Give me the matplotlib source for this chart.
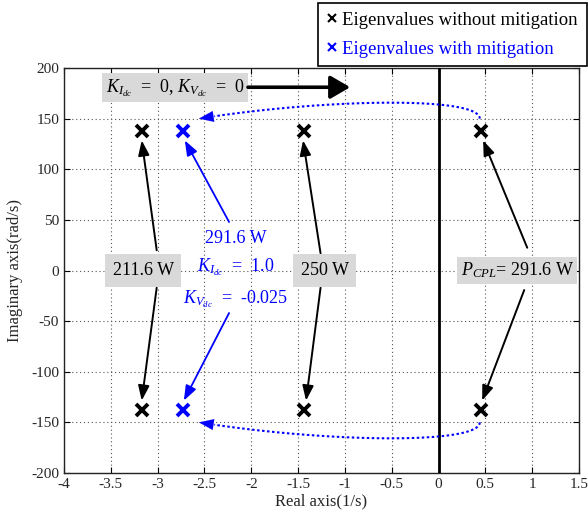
import numpy as np
import matplotlib
matplotlib.use("Agg")
import matplotlib.pyplot as plt
from matplotlib.lines import Line2D

plt.rcParams['font.family'] = ['Liberation Serif', 'DejaVu Serif']
plt.rcParams['mathtext.fontset'] = 'custom'
plt.rcParams['mathtext.rm'] = 'Liberation Serif'
plt.rcParams['mathtext.it'] = 'Liberation Serif:italic'
plt.rcParams['mathtext.bf'] = 'Liberation Serif:bold'

# ---------------- data ----------------
# eigenvalues without mitigation (real parts for P_CPL = 211.6, 250, 291.6 W)
real_without = [-3.167, -1.436, 0.455]
imag_pair = [138, -138]
# eigenvalue with mitigation (291.6 W, K_Idc = 1.0, K_Vdc = -0.025)
real_with = [-2.73]

power_labels = ["211.6 W", "250 W", r"$P_{CPL}$= 291.6 W"]
label_x = [-3.155, -1.217, 0.84]
label_y = [0.0, 0.0, 0.0]
label_pad = [0.42, 0.42, 0.2]

xticks = [-4, -3.5, -3, -2.5, -2, -1.5, -1, -0.5, 0, 0.5, 1, 1.5]
yticks = [-200, -150, -100, -50, 0, 50, 100, 150, 200]

# ---------------- figure ----------------
fig = plt.figure(figsize=(5.88, 5.23), dpi=100)
ax = fig.add_axes([64 / 588, 50 / 523, 515 / 588, 405 / 523])
ax.set_xlim(-4, 1.5)
ax.set_ylim(-200, 200)
ax.set_xticks(xticks)
ax.set_xticklabels([("%g" % v) for v in xticks])
ax.set_yticks(yticks)
ax.set_yticklabels([("%g" % v) for v in yticks])
ax.tick_params(direction='in', top=True, right=True, length=4, width=0.8,
               labelsize=11, labelcolor='#262626')
ax.grid(True, linestyle=(0, (1, 2.5)), color='#555555', linewidth=0.8)
for s in ax.spines.values():
    s.set_linewidth(1.0)
    s.set_color('#222222')
ax.set_xlabel("Real axis(1/s)", fontsize=12, color='#262626', labelpad=2)
ax.set_ylabel("Imaginary axis(rad/s)", fontsize=12, color='#262626', labelpad=6)

# imaginary axis line
ax.axvline(0, color='black', linewidth=2.0, zorder=3)

# markers
for x in real_without:
    ax.plot([x, x], imag_pair, linestyle='none', marker='x', markersize=8.5,
            markeredgewidth=2.8, color='black', zorder=5)
for x in real_with:
    ax.plot([x, x], imag_pair, linestyle='none', marker='x', markersize=8.5,
            markeredgewidth=2.8, color='#0000FF', zorder=5)

# gray labels
for txt, lx, ly, pd in zip(power_labels, label_x, label_y, label_pad):
    ax.text(lx, ly, txt, fontsize=13, ha='center', va='center', zorder=6,
            bbox=dict(boxstyle='square,pad=%g' % pd, fc='#d9d9d9', ec='none'))

# black arrows from labels to eigenvalues
arrow_kw = dict(arrowstyle='-|>,head_length=0.75,head_width=0.28', color='black',
                lw=1.4, shrinkA=0, shrinkB=0, mutation_scale=12)
starts_top = [(-3.01, 20), (-1.26, 17), (0.947, 22.5)]
starts_bot = [(-3.01, -17), (-1.26, -17), (0.915, -19.3)]
tip_dx_top = [-0.003, -0.011, 0.021]
tip_dx_bot = [-0.003, 0.021, 0.011]
for i, x in enumerate(real_without):
    ax.annotate("", xy=(x + tip_dx_top[i], imag_pair[0] - 9.5), xytext=starts_top[i],
                arrowprops=arrow_kw, zorder=4)
    ax.annotate("", xy=(x + tip_dx_bot[i], imag_pair[1] + 9.5), xytext=starts_bot[i],
                arrowprops=arrow_kw, zorder=4)

# blue text and arrows
blue = '#0000FF'
bx = -2.17
ax.text(bx, 32, "291.6 W", color=blue, fontsize=13, ha='center', va='center', zorder=6)
ax.text(bx, 3, r"$K_{I_{dc}}$  =  1.0", color=blue, fontsize=13, ha='center', va='center', zorder=6)
ax.text(bx, -28, r"$K_{V_{dc}}$  =  -0.025", color=blue, fontsize=13, ha='center', va='center', zorder=6)
blue_kw = dict(arrowprops=dict(arrowstyle='-|>,head_length=0.75,head_width=0.28', color=blue,
                               lw=1.3, shrinkA=0, shrinkB=0, mutation_scale=12))
ax.annotate("", xy=(real_with[0] + 0.02, imag_pair[0] - 9.5), xytext=(-2.237, 47.9), **blue_kw)
ax.annotate("", xy=(real_with[0] + 0.01, imag_pair[1] + 9.5), xytext=(-2.237, -42), **blue_kw)

# top-left label with thick arrow
ax.text(-2.81, 180.5, r"$K_{I_{dc}}$  =  0, $K_{V_{dc}}$  =  0", fontsize=13, ha='center',
        va='center', zorder=6,
        bbox=dict(boxstyle='square,pad=0.2', fc='#d9d9d9', ec='none'))
ax.annotate("", xy=(-0.944, 181), xytext=(-2.035, 181),
            arrowprops=dict(arrowstyle='-|>,head_length=0.6,head_width=0.35', color='black',
                            lw=2.6, shrinkA=0, shrinkB=0, mutation_scale=20), zorder=6)

# blue dotted curved arrows (cubic Bezier) from unstable to mitigated eigenvalue
def bezier(p0, p1, p2, p3, n=200):
    t = np.linspace(0, 1, n)[:, None]
    return ((1 - t) ** 3) * p0 + 3 * t * (1 - t) ** 2 * p1 + 3 * t ** 2 * (1 - t) * p2 + t ** 3 * p3

for sgn in (1, -1):
    p0 = np.array([real_without[2] - 0.015, 150 * sgn])
    p1 = np.array([real_without[2] - 0.015, 172 * sgn])
    p2 = np.array([-1.2, 170 * sgn])
    p3 = np.array([real_with[0] + 0.17, 150 * sgn])
    pts = bezier(p0, p1, p2, p3)
    ax.plot(pts[:-8, 0], pts[:-8, 1], color=blue, linestyle=(0, (1.2, 1.2)), lw=1.5, zorder=4)
    ax.annotate("", xy=pts[-1], xytext=pts[-12],
                arrowprops=dict(arrowstyle='-|>,head_length=0.75,head_width=0.28', color=blue,
                                lw=0.1, shrinkA=0, shrinkB=0, mutation_scale=14), zorder=4)

# legend
handles = [Line2D([], [], linestyle='none', marker='x', markersize=5.5, markeredgewidth=1.5, color='black'),
           Line2D([], [], linestyle='none', marker='x', markersize=5.5, markeredgewidth=1.5, color=blue)]
leg = fig.legend(handles, ["Eigenvalues without mitigation", "Eigenvalues with mitigation"],
                 loc='upper right', bbox_to_anchor=(586.5 / 588, 1 - 3 / 523),
                 fontsize=13.5, frameon=True, fancybox=False, framealpha=1, edgecolor='black',
                 handlelength=0.55, handletextpad=0.3, labelspacing=0.65, borderpad=0.45,
                 borderaxespad=0)
leg.get_frame().set_linewidth(1.2)
leg.get_texts()[1].set_color(blue)

fig.savefig("out.png", dpi=100)
